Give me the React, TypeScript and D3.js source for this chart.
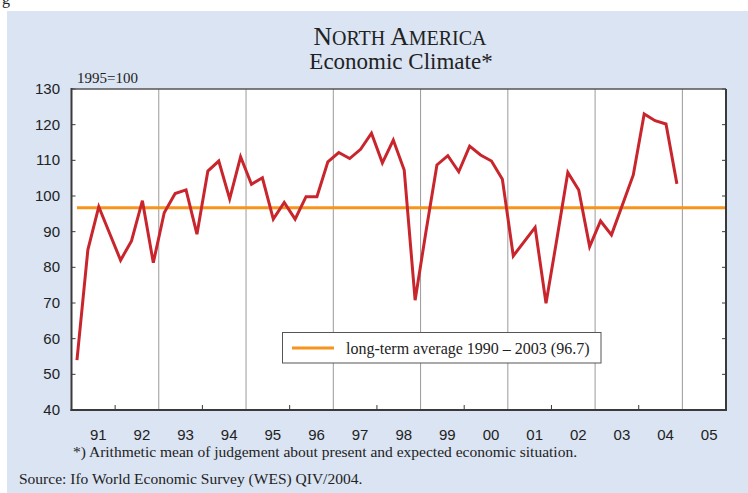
import React from "react";
import * as d3 from "d3";

const startYear = 1991;
const endYear = 2006;
const yearLabels = ["91", "92", "93", "94", "95", "96", "97", "98", "99", "00", "01", "02", "03", "04", "05"];
const yTicks = [40, 50, 60, 70, 80, 90, 100, 110, 120, 130];
const climate = [
  54.0, 84.9, 97.0, 89.5, 82.0, 87.4, 98.7, 81.3,
  95.3, 100.7, 101.7, 89.3, 107.0, 109.8, 99.2, 111.0,
  103.3, 105.1, 93.5, 98.2, 93.5, 99.8, 99.8, 109.6,
  112.2, 110.5, 113.1, 117.6, 109.3, 115.7, 107.3, 70.8,
  90.1, 108.7, 111.3, 106.8, 114.0, 111.5, 109.8, 104.7,
  83.2, 87.2, 91.2, 69.9, 88.0, 106.6, 101.7, 85.8,
  93.0, 89.1, 97.5, 105.9, 123.0, 121.1, 120.2, 103.4,
];
const longTermAvg = 96.7;
const gridYears = [1993, 1995, 1997, 1999, 2001, 2003, 2005];
const minorYears = [1992, 1994, 1996, 1998, 2000, 2002, 2004];

export default function App() {
  const left = 71.5, right = 726, top = 89, bottom = 410;
  const x = d3.scaleLinear().domain([startYear, endYear]).range([left, right]);
  const y = d3.scaleLinear().domain([40, 130]).range([bottom, top]);
  const qx = (i: number) => x(startYear + i * 0.25 + 0.125);
  const line = d3.line<number>().x((_, i) => qx(i)).y((d) => y(d));
  const serif = "'Liberation Serif', 'Times New Roman', serif";
  const sans = "'Liberation Sans', Arial, sans-serif";
  const axisCol = "#3a3a3a";

  return (
    <svg width={748} height={493} style={{ position: "absolute", left: 0, top: 0 }}>
      <rect x={0} y={0} width={748} height={493} fill="#fff" />
      <text x={2} y={4} fontFamily={serif} fontSize={16} fill="#222">g</text>
      <rect x={7} y={11} width={741} height={482} fill="#dae4f3" />
      <text x={400} y={45} textAnchor="middle" fontFamily={serif} fontSize={25.5} fill="#222">
        <tspan>N</tspan><tspan fontSize={20}>ORTH</tspan><tspan> A</tspan><tspan fontSize={20}>MERICA</tspan>
      </text>
      <text x={401} y={68.5} textAnchor="middle" fontFamily={serif} fontSize={23} fill="#222">Economic Climate*</text>
      <text x={77} y={83} fontFamily={serif} fontSize={15} fill="#222">1995=100</text>

      <rect x={left} y={top} width={right - left} height={bottom - top} fill="#fff" />
      {gridYears.map((g) => (
        <line key={g} x1={x(g)} x2={x(g)} y1={top} y2={bottom} stroke="#9a9a9a" strokeWidth={1} />
      ))}
      {minorYears.map((g) => (
        <line key={g} x1={x(g)} x2={x(g)} y1={bottom} y2={bottom - 5} stroke={axisCol} strokeWidth={1} />
      ))}
      {yTicks.map((t) => (
        <g key={t}>
          <line x1={left} x2={left + 4} y1={y(t)} y2={y(t)} stroke={axisCol} strokeWidth={1} />
          <line x1={right - 4} x2={right} y1={y(t)} y2={y(t)} stroke={axisCol} strokeWidth={1} />
          <text x={60} y={y(t) + 5} textAnchor="end" fontFamily={sans} fontSize={15} fill="#222">{t}</text>
        </g>
      ))}
      {yearLabels.map((l, i) => (
        <text key={l} x={x(startYear + i + 0.5) + 5} y={440} textAnchor="middle" fontFamily={sans} fontSize={15} fill="#222">{l}</text>
      ))}

      <line x1={qx(0)} x2={right} y1={y(longTermAvg)} y2={y(longTermAvg)} stroke="#f7941d" strokeWidth={3} />
      <path d={line(climate) ?? ""} fill="none" stroke="#c9252d" strokeWidth={3} strokeLinejoin="miter" />

      <line x1={left} x2={right} y1={top} y2={top} stroke="#555" strokeWidth={1.5} />
      <line x1={right} x2={right} y1={top} y2={bottom} stroke={axisCol} strokeWidth={2} />
      <line x1={left} x2={left} y1={top - 1} y2={bottom + 1} stroke={axisCol} strokeWidth={2} />
      <line x1={left - 1} x2={right + 1} y1={bottom} y2={bottom} stroke={axisCol} strokeWidth={2} />

      <rect x={282.5} y={332.5} width={318.5} height={30.5} fill="#fff" stroke="#555" strokeWidth={1} />
      <line x1={292} x2={334} y1={348} y2={348} stroke="#f7941d" strokeWidth={3} />
      <text x={346} y={353.5} fontFamily={serif} fontSize={16} fill="#222">long-term average 1990 – 2003 (96.7)</text>

      <text x={73} y={457} fontFamily={serif} fontSize={15.5} fill="#222">*) Arithmetic mean of judgement about present and expected economic situation.</text>
      <text x={19} y={484} fontFamily={serif} fontSize={15.5} fill="#222">Source: Ifo World Economic Survey (WES) QIV/2004.</text>
    </svg>
  );
}
